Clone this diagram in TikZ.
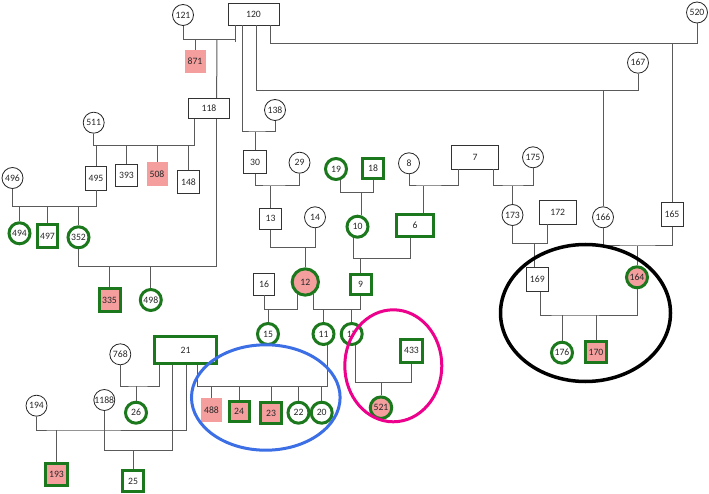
\documentclass[tikz,border=0pt]{standalone}
\usepackage{fontspec}
\setmainfont{Carlito}
\definecolor{greenc}{RGB}{28,120,28}
\definecolor{pinkc}{RGB}{244,158,158}
\definecolor{linec}{RGB}{90,90,90}
\definecolor{bluec}{RGB}{60,110,230}
\definecolor{txtc}{RGB}{40,40,40}
\tikzset{
 base/.style={inner sep=0pt, font=\fontsize{9.7}{11}\selectfont, text=txtc},
 fc/.style={base, circle, draw=black!85, line width=0.8pt, minimum size=21pt, fill=white},
 mr/.style={base, rectangle, draw=black!80, line width=0.8pt, fill=white},
 pk/.style={base, rectangle, fill=pinkc},
 gc/.style={base, circle, draw=greenc, line width=3pt, minimum size=21pt, fill=white},
 gcp/.style={gc, fill=pinkc},
 gbox/.style={base, rectangle, draw=greenc, line width=3pt, fill=white},
 gboxp/.style={gbox, fill=pinkc},
 ln/.style={draw=linec, line width=1pt},
 sz/.style 2 args={minimum width=#1pt, minimum height=#2pt},
 ring/.style={line width=3pt},
}
\begin{document}
\begin{tikzpicture}[x=1pt,y=-1pt]
\useasboundingbox (0,0) rectangle (709,494);
% ---------- nodes ----------
\node[fc] (n121) at (183,15) {121};
\node[mr,sz={51}{22}] (n120) at (253.5,14) {120};
\node[pk,sz={21}{23}] (n871) at (195,61.5) {871};
\node[mr,sz={41.4}{20.4}] (n118) at (209,108.5) {118};
\node[fc] (n138) at (275,110) {138};
\node[fc] (n520) at (697,12.5) {520};
\node[fc] (n167) at (638,62.7) {167};
\node[fc] (n511) at (93.7,122.7) {511};
\node[mr,sz={21.7}{24}] (n495) at (96,178) {495};
\node[mr,sz={21.6}{22.7}] (n393) at (126.5,175.3) {393};
\node[pk,sz={21}{23.7}] (n508) at (157,174) {508};
\node[mr,sz={22}{22.3}] (n148) at (188.5,182) {148};
\node[fc] (n496) at (12.5,178) {496};
\node[gc] (n494) at (19.5,233.3) {494};
\node[gbox,sz={20.4}{23}] (n497) at (47.5,236.3) {497};
\node[gc] (n352) at (78.5,237.3) {352};
\node[gboxp,sz={21}{23}] (n335) at (109.5,300.3) {335};
\node[gc] (n498) at (150.8,300) {498};
\node[mr,sz={22.3}{22.3}] (n30) at (255,162) {30};
\node[fc] (n29) at (299.5,162.7) {29};
\node[mr,sz={22.3}{21}] (n13) at (270.5,218.8) {13};
\node[fc] (n14) at (315,217.3) {14};
\node[gcp,minimum size=26.3pt] (n12) at (305.3,282) {12};
\node[mr,sz={21.7}{21.7}] (n16) at (264,284.2) {16};
\node[gc] (n15) at (268,334) {15};
\node[gc] (n11) at (323.5,334) {11};
\node[gc] (n17) at (351.7,334) {17};
\node[gbox,sz={21}{20.3}] (n9) at (360.5,284.3) {9};
\node[gc] (n19) at (336,169) {19};
\node[gbox,sz={20.3}{20.3}] (n18) at (373,168.3) {18};
\node[gc] (n10) at (357.5,226.7) {10};
\node[gbox,sz={37}{22.6}] (n6) at (415,225.5) {6};
\node[fc] (n8) at (409,163.3) {8};
\node[mr,sz={46.6}{23.3}] (n7) at (475,157.3) {7};
\node[fc] (n175) at (533,157.3) {175};
\node[fc] (n173) at (512.5,215) {173};
\node[mr,sz={36.7}{24}] (n172) at (557.7,212) {172};
\node[mr,sz={22}{24}] (n169) at (537.3,279.7) {169};
\node[fc] (n166) at (603,217.3) {166};
\node[mr,sz={22}{24}] (n165) at (672,214.7) {165};
\node[gcp] (n164) at (637,277.3) {164};
\node[gc] (n176) at (562,352.7) {176};
\node[gboxp,sz={20.6}{21}] (n170) at (596,352) {170};
\node[gbox,sz={21.3}{23.3}] (n433) at (411.5,350.8) {433};
\node[gcp,minimum size=21.5pt] (n521) at (381,407.7) {521};
\node[gbox,sz={62.6}{27}] (n21) at (185.5,350) {21};
\node[fc] (n768) at (120.3,354.3) {768};
\node[gc] (n26) at (136,412.7) {26};
\node[pk,sz={21}{23.4}] (n488) at (211.5,410) {488};
\node[gboxp,sz={20}{20.3}] (n24) at (239,411.7) {24};
\node[gboxp,sz={21.4}{21}] (n23) at (271,413) {23};
\node[gc] (n22) at (298.5,412.7) {22};
\node[gc] (n20) at (321.7,412.7) {20};
\node[fc] (n194) at (36.5,405.7) {194};
\node[fc] (n1188) at (104.3,400) {1188};
\node[gboxp,sz={22}{21.4}] (n193) at (56.5,474.5) {193};
\node[gbox,sz={21}{21.3}] (n25) at (133,481) {25};
% ---------- junction points ----------
\coordinate (b1) at (217,39.3);
\coordinate (b2) at (255,132);
\coordinate (b3) at (603,90.7);
\coordinate (b4) at (672,43.3);
\coordinate (b5) at (157,145.7);
\coordinate (b6) at (109.5,266.7);
\coordinate (b7) at (47.5,206.7);
\coordinate (b8) at (270.5,186);
\coordinate (b9) at (305.3,247.3);
\coordinate (b10) at (268,309.3);
\coordinate (b11) at (323.5,309.3);
\coordinate (b12) at (361,192.7);
\coordinate (b13) at (360.5,258.3);
\coordinate (b14) at (423.3,186);
\coordinate (b15) at (512.5,186);
\coordinate (b16) at (534.3,243.3);
\coordinate (b17) at (637,246);
\coordinate (b18) at (562,315);
\coordinate (b19) at (381,382.7);
\coordinate (b20) at (136,386);
\coordinate (b21) at (271,386.7);
\coordinate (b22) at (56.5,430);
\coordinate (b23) at (133,450.7);
% ---------- connectors ----------
\draw[ln] (n121) |- (b1) -| ([xshift=7.7pt]n120.south west);
\draw[ln] ([xshift=7.7pt]n120.south west) -- ++(0,17);
\draw[ln] (n871) -- (n871 |- b1);
\draw[ln] ([xshift=28.7pt]n118.north west) -- (b1);
\draw[ln] ([xshift=14.7pt]n120.south west) |- (b2) -| (n138);
\draw[ln] (n30) -- (b2);
\draw[ln] ([xshift=28.7pt]n120.south west) |- (b3) -| (n167);
\draw[ln] (n166) -- (b3);
\draw[ln] ([xshift=42.7pt]n120.south west) |- (b4) -| (n520);
\draw[ln] (n165) -- (b4);
\draw[ln] (n511) |- (b5) -| ([xshift=6.7pt]n118.south west);
\foreach \c in {n495,n393,n508,n148} \draw[ln] (\c) -- (\c |- b5);
\draw[ln] ([xshift=28.7pt]n118.south west) |- (b6) -| (n352);
\foreach \c in {n335,n498} \draw[ln] (\c) -- (\c |- b6);
\draw[ln] (n496) |- (b7) -| (n495);
\foreach \c in {n494,n497,n352} \draw[ln] (\c) -- (\c |- b7);
\draw[ln] (n30) |- (b8) -| (n29);
\draw[ln] (n13) -- (b8);
\draw[ln] (n13) |- (b9) -| (n14);
\draw[ln] (n12) -- (b9);
\draw[ln] (n16) |- (b10) -| (n12.238);
\draw[ln] (n15) -- (b10);
\draw[ln] (n12.302) |- (b11) -| (n9);
\foreach \c in {n11,n17} \draw[ln] (\c) -- (\c |- b11);
\draw[ln] (n19.292) |- (b12) -| (n18);
\draw[ln] (n10.70) -- (n10.70 |- b12);
\draw[ln] (n10.250) |- (b13) -| ([xshift=-5pt]n6.south);
\draw[ln] (n9) -- (b13);
\draw[ln] (n8) |- (b14) -| ([xshift=7.6pt]n7.south west);
\draw[ln] ([xshift=8.3pt]n6.north) -- (b14);
\draw[ln] ([xshift=-5.6pt]n7.south east) |- (b15) -| (n175);
\draw[ln] (n173) -- (b15);
\draw[ln] (n173) |- (b16) -| ([xshift=9pt]n172.south west);
\draw[ln] ([xshift=-3pt]n169.north) -- (b16);
\draw[ln] (n166) |- (b17) -| (n165);
\draw[ln] (n164) -- (b17);
\draw[ln] ([xshift=3pt]n169.south) |- (b18) -| (n164);
\foreach \c in {n176,n170} \draw[ln] (\c) -- (\c |- b18);
\draw[ln] (n17.290) |- (b19) -| (n433);
\draw[ln] (n521) -- (b19);
\draw[ln] (n768) |- (b20) -| ([xshift=6.5pt]n21.south west);
\draw[ln] (n26) -- (b20);
\draw[ln] ([xshift=44.8pt]n21.south west) |- (b21) -| (n11.288);
\foreach \c in {n488,n24,n23,n22,n20} \draw[ln] (\c) -- (\c |- b21);
\draw[ln] (n194) |- (b22) -| ([xshift=33.5pt]n21.south west);
\draw[ln] (n193) -- (b22);
\draw[ln] (n1188) |- (b23) -| ([xshift=19.8pt]n21.south west);
\draw[ln] (n25) -- (b23);
% ---------- highlight rings ----------
\draw[ring, draw=bluec] (265.8,397.5) ellipse [x radius=74.3, y radius=52.7];
\draw[ring, draw=magenta] (393.3,365.8) ellipse [x radius=48.5, y radius=56];
\draw[ring, line width=3.5pt, draw=black] (585.5,313) ellipse [x radius=85, y radius=68.5];
\end{tikzpicture}
\end{document}
